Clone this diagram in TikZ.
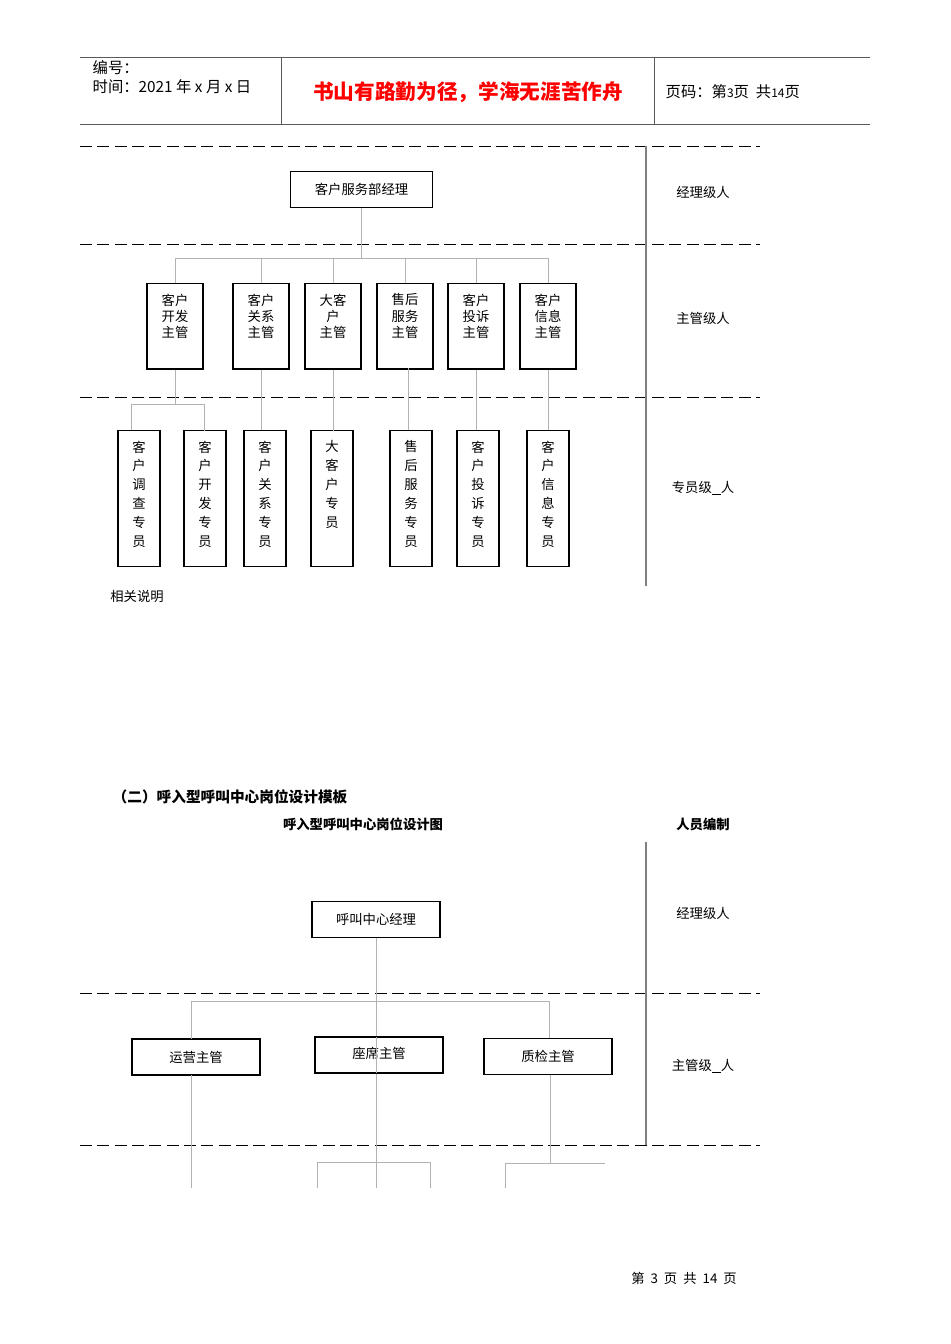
\documentclass[tikz,border=0pt]{standalone}
\usepackage{fontspec}
\setmainfont{Noto Sans CJK SC}
\newfontfamily\cjk{Noto Sans CJK SC}
\begin{document}
\begin{tikzpicture}[x=0.75pt,y=-0.75pt,
  bx/.style={draw,line width=0.9pt,font=\fontsize{10}{12}\selectfont},
  cn/.style={draw=gray!60,line width=0.5pt},
  dl/.style={draw,line width=0.6pt,dash pattern=on 9pt off 4pt},
  lb/.style={font=\fontsize{10}{12}\selectfont},
  vt/.style={align=center,font=\fontsize{10}{14.2}\selectfont,anchor=north}]
\useasboundingbox[fill=white](0,0) rectangle (950,1344);
% header
\draw[gray!70!black,line width=0.6pt] (80,57)--(870,57) (80,124)--(870,124) (281,57)--(281,124) (654,57)--(654,124);
\node[anchor=west,font=\fontsize{11.5}{14}\selectfont] (h1) at (88,68) {编号：};
\node[anchor=west,font=\fontsize{11.5}{14}\selectfont] (h2) at (88,87) {时间：2021 年 x 月 x 日};
\node[text=red,font=\bfseries\fontsize{15.5}{18}\selectfont] (h3) at (468,92) {书山有路勤为径，学海无涯苦作舟};
\node[anchor=west,font=\fontsize{11.5}{14}\selectfont] (h4) at (661,92) {页码：第{\fontsize{9}{10}\selectfont 3}页\ \ 共{\fontsize{9}{10}\selectfont 14}页};
% section 1 grid
\foreach \y in {146,244,397} \draw[dl] (80,\y)--(760,\y);
\draw[gray,line width=0.8pt] (646,146)--(646,586);
\node[bx,minimum width=107pt,minimum height=27.5pt] (m) at (361.5,189.5) {客户服务部经理};
\coordinate (t1) at (361.5,258);
\draw[cn] (m.south)--(t1) (175,258)--(548,258);
\foreach \n/\x/\t in {a/175/客户\\开发\\主管,b/261/客户\\关系\\主管,c/333/大客\\户\\主管,d/405/售后\\服务\\主管,e/476/客户\\投诉\\主管,f/548/客户\\信息\\主管}{
  \node[bx,minimum width=42pt,minimum height=64pt,anchor=north] (\n) at (\x,283) {};
  \node[vt,font=\fontsize{10}{12.3}\selectfont] (\n t) at (\x,289) {\t};
  \draw[cn] (\x,258)--(\n.north);
}
\foreach \n/\x/\t in {p/139/客\\户\\调\\查\\专\\员,q/205/客\\户\\开\\发\\专\\员,r/265/客\\户\\关\\系\\专\\员,s/332/大\\客\\户\\专\\员,u/411/售\\后\\服\\务\\专\\员,v/478/客\\户\\投\\诉\\专\\员,w/548/客\\户\\信\\息\\专\\员}{
  \node[bx,minimum width=31.5pt,minimum height=102pt,anchor=north] (\n) at (\x,430) {};
  \node[vt] (\n t) at (\x,436) {\t};
}
\coordinate (j1) at (175,404);
\draw[cn] (a.south)--(j1) (131,404)--(204,404) (131,404)--(131,430) (204,404)--(204,431);
\draw[cn] (b.south)--(261,430) (c.south)--(333,431) (408,368)--(408,430) (e.south)--(476,430) (f.south)--(548,430);
\node[lb] (l1) at (703,192) {经理级人};
\node[lb] (l2) at (703,318) {主管级人};
\node[lb] (l3) at (703,488) {专员级\underline{\ \ \ }人};
\node[lb] (l4) at (137,596) {相关说明};
% section 2
\node[anchor=west,font=\bfseries\fontsize{11}{13}\selectfont] (s2) at (108,797) {（二）呼入型呼叫中心岗位设计模板};
\node[font=\bfseries\fontsize{10}{12}\selectfont] (s3) at (363,824) {呼入型呼叫中心岗位设计图};
\node[font=\bfseries\fontsize{10}{12}\selectfont] (s4) at (703,824) {人员编制};
\foreach \y in {993,1145} \draw[dl] (80,\y)--(760,\y);
\draw[gray,line width=0.8pt] (646,842)--(646,1145);
\node[bx,minimum width=96pt,minimum height=27.5pt] (cm) at (376,919.5) {呼叫中心经理};
\node[bx,minimum width=96pt,minimum height=27pt] (o1) at (196,1057) {运营主管};
\node[bx,minimum width=96pt,minimum height=27pt] (o3) at (548,1056.5) {质检主管};
\coordinate (e1) at (376,1188);
\draw[cn] (cm.south)--(e1);
\node[bx,minimum width=96pt,minimum height=27pt,fill=none] (o2) at (379,1055) {};
\node[lb] (o2t) at (379,1053) {座席主管};
\draw[cn] (376,1037)--(376,1073);
\draw[cn] (191,1001)--(549,1001) (191,1001)--(191,1039) (549,1001)--(549,1038);
\draw[cn] (191,1075)--(191,1188) (550,1075)--(550,1163) (505,1163)--(605,1163) (505,1163)--(505,1188);
\draw[cn] (317,1162)--(430,1162) (317,1162)--(317,1188) (430,1162)--(430,1188);
\node[lb] (l5) at (703,913) {经理级人};
\node[lb] (l6) at (703,1066) {主管级\underline{\ \ \ }人};
\node[lb] (ft) at (684,1278) {第\ \ 3\ \ 页\ \ 共\ \ 14\ \ 页};
\end{tikzpicture}
\end{document}
